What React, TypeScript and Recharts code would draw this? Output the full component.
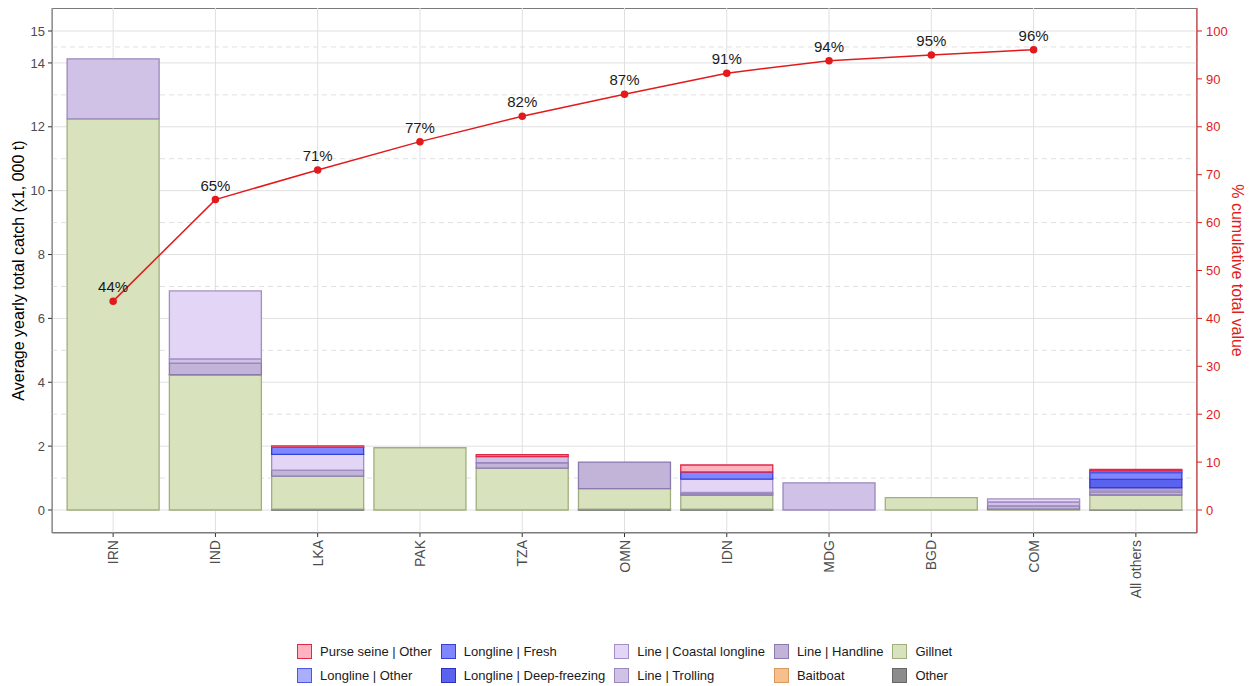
import React from "react";
import {
  ComposedChart,
  Bar,
  Line,
  XAxis,
  YAxis,
  CartesianGrid,
  LabelList,
} from "recharts";

const categories = ["IRN", "IND", "LKA", "PAK", "TZA", "OMN", "IDN", "MDG", "BGD", "COM", "All others"];

// catch by gear, x1,000 t (stacked bottom -> top)
const otherGear = [0, 0, 0.03, 0, 0, 0.03, 0.03, 0, 0, 0, 0.01];
const gillnet = [12.25, 4.22, 1.03, 1.95, 1.31, 0.64, 0.44, 0, 0.39, 0.03, 0.46];
const baitboat = [0, 0.02, 0, 0, 0, 0, 0, 0, 0, 0, 0];
const handline = [0, 0.36, 0.19, 0, 0.17, 0.83, 0.05, 0, 0, 0.1, 0.1];
const trolling = [1.88, 0.13, 0, 0, 0.19, 0, 0.03, 0.85, 0, 0.12, 0.06];
const coastalLongline = [0, 2.13, 0.49, 0, 0, 0, 0.42, 0, 0, 0.1, 0.06];
const deepFreezing = [0, 0, 0, 0, 0, 0, 0, 0, 0, 0, 0.27];
const fresh = [0, 0, 0.22, 0, 0, 0, 0.22, 0, 0, 0, 0.21];
const longlineOther = [0, 0, 0, 0, 0, 0, 0, 0, 0, 0, 0.06];
const purseSeineOther = [0, 0, 0.05, 0, 0.06, 0, 0.22, 0, 0, 0, 0.04];

// % cumulative total value
const cumulative = [43.6, 64.8, 71.0, 76.9, 82.2, 86.8, 91.2, 93.8, 95.0, 96.1, null];

const leftTicks = [0, 2, 4, 6, 8, 10, 12, 14, 15];
const leftMinor = [1, 3, 5, 7, 9, 11, 13, 14.5];
const rightTicks = [0, 10, 20, 30, 40, 50, 60, 70, 80, 90, 100];

const RED = "#E31A1C";

const series = [
  { key: "other", name: "Other", values: otherGear, fill: "#8C8C8C", stroke: "#666666" },
  { key: "gillnet", name: "Gillnet", values: gillnet, fill: "#D8E3BD", stroke: "#9FAF80" },
  { key: "baitboat", name: "Baitboat", values: baitboat, fill: "#F8BE8C", stroke: "#D99A62" },
  { key: "handline", name: "Line | Handline", values: handline, fill: "#C2B3D8", stroke: "#8A7AAD" },
  { key: "trolling", name: "Line | Trolling", values: trolling, fill: "#D0C2E6", stroke: "#9A88BC" },
  { key: "coastal", name: "Line | Coastal longline", values: coastalLongline, fill: "#E2D5F5", stroke: "#A290C4" },
  { key: "deep", name: "Longline | Deep-freezing", values: deepFreezing, fill: "#5A62F0", stroke: "#2A33C0" },
  { key: "fresh", name: "Longline | Fresh", values: fresh, fill: "#7F86FF", stroke: "#3540D8" },
  { key: "llother", name: "Longline | Other", values: longlineOther, fill: "#A9AEFF", stroke: "#4C56E6" },
  { key: "purse", name: "Purse seine | Other", values: purseSeineOther, fill: "#FFB3C1", stroke: "#E02848" },
];

const data = categories.map((name, i) => {
  const row: any = { name, cum: cumulative[i] };
  series.forEach((s) => (row[s.key] = s.values[i]));
  return row;
});

// legend columns as ggplot lays them out (2 rows, filled by column)
const legendOrder = ["purse", "llother", "fresh", "deep", "coastal", "trolling", "handline", "baitboat", "gillnet", "other"];

const XTick = ({ x, y, payload }: any) => (
  <text
    x={x}
    y={y}
    transform={`rotate(-90, ${x}, ${y})`}
    textAnchor="end"
    dominantBaseline="central"
    fill="#4D4D4D"
    fontSize={14}
  >
    {payload.value}
  </text>
);

const Legend = () => {
  const cols = [];
  for (let c = 0; c < 5; c++) {
    cols.push(legendOrder.slice(c * 2, c * 2 + 2).map((k) => series.find((s) => s.key === k)!));
  }
  return (
    <div style={{ position: "absolute", left: 297, top: 639, display: "flex", gap: 9 }}>
      {cols.map((col, ci) => (
        <div key={ci} style={{ display: "flex", flexDirection: "column" }}>
          {col.map((s) => (
            <div key={s.key} style={{ display: "flex", alignItems: "center", height: 24 }}>
              <div
                style={{
                  width: 15,
                  height: 15,
                  boxSizing: "border-box",
                  background: s.fill,
                  border: `1.5px solid ${s.stroke}`,
                  marginRight: 8,
                }}
              />
              <span style={{ fontSize: 13, color: "#1A1A1A", whiteSpace: "nowrap" }}>{s.name}</span>
            </div>
          ))}
        </div>
      ))}
    </div>
  );
};

export default function App() {
  return (
    <div
      style={{
        position: "absolute",
        left: 0,
        top: 0,
        width: 1253,
        height: 686,
        background: "#fff",
        fontFamily: "'Liberation Sans', Arial, sans-serif",
      }}
    >
      <div
        style={{
          position: "absolute",
          left: 52,
          top: 8,
          width: 1145,
          height: 525,
          boxSizing: "border-box",
          border: "1px solid #7A7A7A",
        }}
      />
      <ComposedChart
        width={1253}
        height={686}
        data={data}
        margin={{ top: 8, right: 0, left: 12, bottom: 73 }}
        barCategoryGap="5%"
        style={{ position: "absolute", left: 0, top: 0 }}
      >
        <CartesianGrid
          yAxisId="left"
          stroke="#E0E0E0"
          horizontalValues={leftTicks}
        />
        <CartesianGrid
          yAxisId="left"
          stroke="#E0E0E0"
          strokeDasharray="5 4"
          vertical={false}
          horizontalValues={leftMinor}
        />
        <XAxis
          dataKey="name"
          padding={{ left: 10, right: 10 }}
          height={80}
          interval={0}
          tickSize={4}
          tickMargin={3}
          tickLine={{ stroke: "#333" }}
          axisLine={{ stroke: "#7A7A7A" }}
          tick={<XTick />}
        />
        <YAxis
          yAxisId="left"
          width={40}
          domain={[-0.72, 15.72]}
          allowDataOverflow
          ticks={leftTicks}
          interval={0}
          tickSize={4}
          tickMargin={3}
          tickLine={{ stroke: "#333" }}
          axisLine={{ stroke: "#7A7A7A" }}
          tick={{ fill: "#4D4D4D", fontSize: 13 }}
          label={{
            content: (p: any) => {
              const vb = p.viewBox;
              const cx = vb.x + 6;
              const cy = vb.y + vb.height / 2;
              return (
                <text
                  x={cx}
                  y={cy}
                  transform={`rotate(-90, ${cx}, ${cy})`}
                  textAnchor="middle"
                  dominantBaseline="central"
                  fontSize={16}
                  fill="#000"
                >
                  Average yearly total catch (x1, 000 t)
                </text>
              );
            },
          }}
        />
        <YAxis
          yAxisId="right"
          orientation="right"
          width={56}
          domain={[-4.8, 104.8]}
          allowDataOverflow
          ticks={rightTicks}
          interval={0}
          tickSize={5}
          tickMargin={4}
          stroke={RED}
          tickLine={{ stroke: RED }}
          axisLine={{ stroke: RED }}
          tick={{ fill: RED, fontSize: 13 }}
          label={{
            content: (p: any) => {
              const vb = p.viewBox;
              const cx = vb.x + 40;
              const cy = vb.y + vb.height / 2;
              return (
                <text
                  x={cx}
                  y={cy}
                  transform={`rotate(90, ${cx}, ${cy})`}
                  textAnchor="middle"
                  dominantBaseline="central"
                  fontSize={16}
                  fill={RED}
                >
                  % cumulative total value
                </text>
              );
            },
          }}
        />
        {series.map((s) => (
          <Bar
            key={s.key}
            yAxisId="left"
            stackId="catch"
            dataKey={s.key}
            name={s.name}
            fill={s.fill}
            stroke={s.stroke}
            strokeWidth={1.3}
            isAnimationActive={false}
          />
        ))}
        <Line
          yAxisId="right"
          dataKey="cum"
          stroke={RED}
          strokeWidth={1.5}
          dot={{ r: 3, fill: RED, stroke: RED }}
          isAnimationActive={false}
        >
          <LabelList
            dataKey="cum"
            position="top"
            offset={9}
            fill="#1A1A1A"
            fontSize={15}
            formatter={(v: any) => (v == null ? "" : `${Math.round(v)}%`)}
          />
        </Line>
      </ComposedChart>
      <Legend />
    </div>
  );
}
